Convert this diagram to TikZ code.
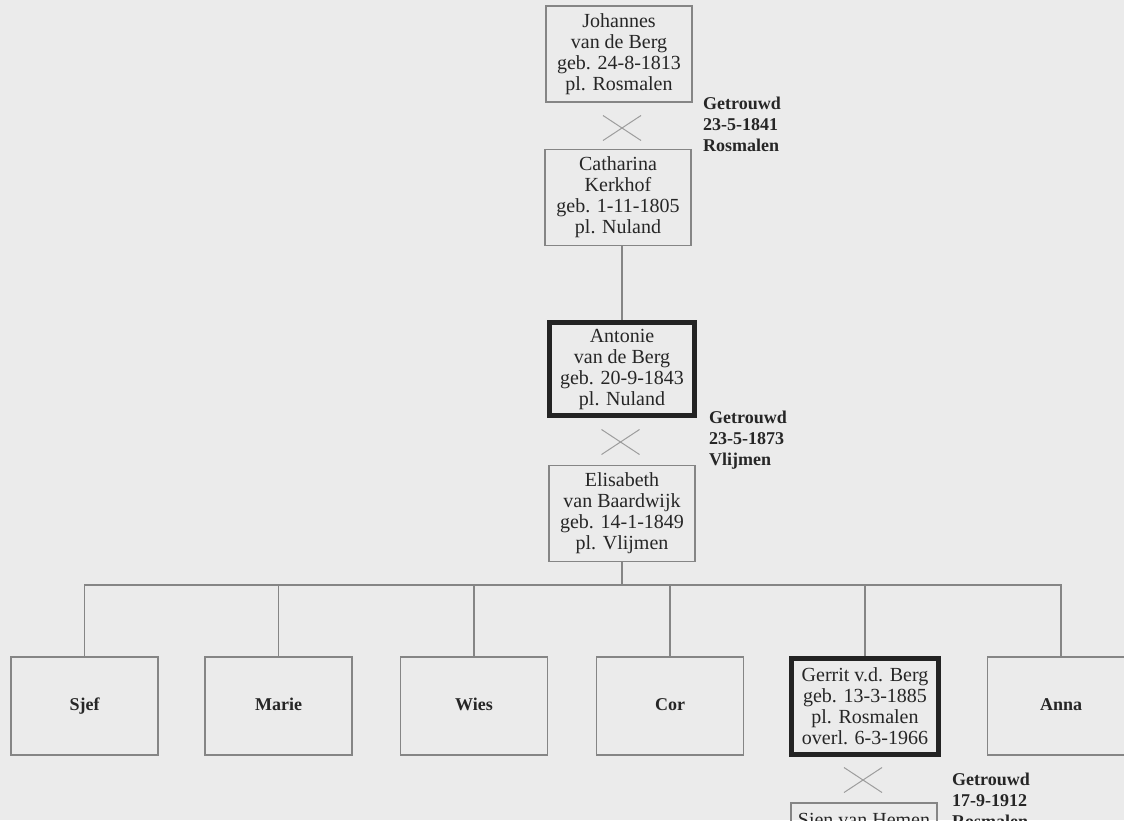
\documentclass[tikz,border=0pt]{standalone}
\usepackage{fontspec}
\setmainfont{Liberation Serif}
\usetikzlibrary{shapes.misc}
\definecolor{papier}{HTML}{EBEBEB}
\definecolor{rand}{HTML}{858585}
\definecolor{inkt}{HTML}{262626}
\definecolor{dik}{HTML}{232323}

\begin{document}
\begin{tikzpicture}[x=1pt,y=-1pt]
   \tikzset{Persoon/.style={draw=rand,line width=1.5pt,text=inkt,minimum width=146pt,minimum height=96pt,inner sep=0pt,align=center,font=\fontsize{20}{21}\selectfont}}
   \tikzset{Hoofd/.style={draw=dik,line width=5pt}}
   \tikzset{Kind/.style={Persoon,minimum width=147pt,minimum height=98pt,text height=13pt,text depth=4pt,font=\bfseries\fontsize{18}{21}\selectfont}}
   \tikzset{Trouw/.style={cross out,draw=rand!80,line width=1pt,minimum width=37pt,minimum height=24pt,inner sep=0pt}}
   \tikzset{Datum/.style={anchor=north west,inner sep=0pt,align=left,text=inkt,font=\bfseries\fontsize{18}{21}\selectfont}}
   \tikzset{Lijn/.style={draw=rand,line width=1.5pt}}
   \useasboundingbox (0,0) rectangle (1124,820);
   \fill[papier] (0,0) rectangle (1124,820);
   \clip (0,0) rectangle (1124,820);
   \node[Persoon] (johannes) at (619,54) {Johannes\\van de Berg\\geb. 24-8-1813\\pl. Rosmalen};
   \node[Trouw] (trouw1) at (622,128) {};
   \node[Datum] (datum1) at (703,97) {Getrouwd\\23-5-1841\\Rosmalen};
   \node[Persoon] (catharina) at (618,197.5) {Catharina\\Kerkhof\\geb. 1-11-1805\\pl. Nuland};
   \node[Persoon,Hoofd,minimum width=145pt,minimum height=93pt] (antonie) at (622,369) {Antonie\\van de Berg\\geb. 20-9-1843\\pl. Nuland};
   \node[Trouw] (trouw2) at (620.5,442) {};
   \node[Datum] (datum2) at (709,410.5) {Getrouwd\\23-5-1873\\Vlijmen};
   \node[Persoon] (elisabeth) at (622,513.5) {Elisabeth\\van Baardwijk\\geb. 14-1-1849\\pl. Vlijmen};
   \coordinate (bar) at (622,585);
   \node[Kind] (sjef) at (84.5,706) {Sjef};
   \node[Kind] (marie) at (278.5,706) {Marie};
   \node[Kind] (wies) at (474,706) {Wies};
   \node[Kind] (cor) at (670,706) {Cor};
   \node[Persoon,Hoofd,minimum width=147pt,minimum height=96pt] (gerrit) at (865,706.5) {Gerrit v.d. Berg\\geb. 13-3-1885\\pl. Rosmalen\\overl. 6-3-1966};
   \node[Kind] (anna) at (1061,706) {Anna};
   \node[Trouw] (trouw3) at (863,780) {};
   \node[Datum] (datum3) at (952,772.5) {Getrouwd\\17-9-1912\\Rosmalen};
   \node[Persoon] (sien) at (864,851) {};
   \node[anchor=base,text=inkt,font=\fontsize{20}{21}\selectfont] (siennaam) at (864,826) {Sien van Hemen};
   \draw[Lijn] (antonie.north) -- (antonie.north |- catharina.south);
   \draw[Lijn] (elisabeth.south) -- (bar);
   \draw[Lijn] (sjef.north) |- (bar) -| (anna.north);
   \foreach \k in {marie,wies,cor,gerrit}
      \draw[Lijn] (\k.north) -- (\k.north |- bar);
\end{tikzpicture}
\end{document}
